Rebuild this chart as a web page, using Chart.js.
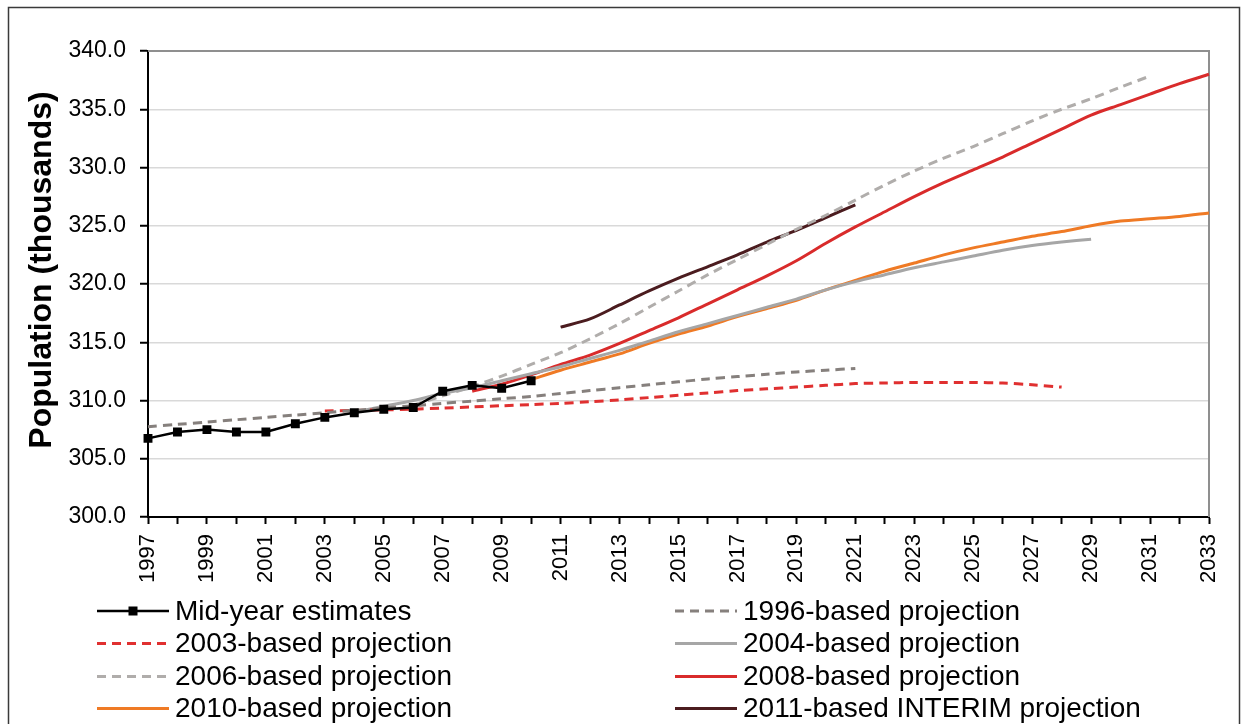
<!DOCTYPE html>
<html>
<head>
<meta charset="utf-8">
<script src="https://cdn.jsdelivr.net/npm/chart.js@4.4.1/dist/chart.umd.min.js"></script>
<style>
  html,body{margin:0;padding:0;background:#fff;}
  #wrap{width:1241px;height:724px;position:relative;}
</style>
</head>
<body>
<div id="wrap"><canvas id="c" width="1241" height="724"></canvas></div>
<script>
// ---------- DATA ----------
const years = ['1997','1998','1999','2000','2001','2002','2003','2004','2005','2006','2007','2008','2009','2010',
  '2011','2012','2013','2014','2015','2016','2017','2018','2019','2020','2021','2022','2023','2024','2025',
  '2026','2027','2028','2029','2030','2031','2032','2033'];
const yTicks = [300, 305, 310, 315, 320, 325, 330, 335, 340];

const seriesNames = ['Mid-year estimates','1996-based projection','2003-based projection','2004-based projection',
  '2006-based projection','2008-based projection','2010-based projection','2011-based INTERIM projection'];

const midYearStart = 1997;
const midYear = [306.75, 307.3, 307.5, 307.3, 307.3, 308.0, 308.55, 308.95, 309.25, 309.4, 310.8, 311.3, 311.05, 311.7];

const p1996Start = 1997;
const p1996 = [307.75, 307.95, 308.15, 308.35, 308.55, 308.75, 308.95, 309.15, 309.35, 309.55, 309.75, 309.95,
  310.15, 310.35, 310.6, 310.85, 311.1, 311.35, 311.6, 311.85, 312.05, 312.25, 312.45, 312.6, 312.75];

const p2003Start = 2003;
const p2003 = [309.1, 309.15, 309.2, 309.25, 309.35, 309.45, 309.55, 309.65, 309.75, 309.9, 310.05, 310.25,
  310.45, 310.65, 310.85, 311.0, 311.15, 311.3, 311.45, 311.5, 311.55, 311.55, 311.55, 311.5, 311.35, 311.15];

const p2004Start = 2004;
const p2004 = [309.0, 309.5, 310.0, 310.6, 311.1, 311.7, 312.3, 312.9, 313.6, 314.3, 315.1, 315.9, 316.6,
  317.3, 318.0, 318.7, 319.5, 320.2, 320.8, 321.4, 321.9, 322.4, 322.9, 323.3, 323.6, 323.85];

const p2006Start = 2006;
const p2006 = [309.6, 310.4, 311.2, 312.1, 313.1, 314.1, 315.3, 316.6, 318.0, 319.4, 320.8, 322.1, 323.4,
  324.7, 325.9, 327.2, 328.5, 329.7, 330.8, 331.8, 332.9, 334.0, 335.0, 335.9, 336.9, 337.85];

const p2008Start = 2008;
const p2008 = [310.8, 311.4, 312.2, 313.1, 313.9, 314.9, 316.0, 317.1, 318.3, 319.5, 320.7, 322.0, 323.5,
  324.9, 326.2, 327.5, 328.7, 329.8, 330.9, 332.1, 333.3, 334.5, 335.4, 336.3, 337.2, 338.0];

const p2010Start = 2010;
const p2010 = [311.8, 312.6, 313.3, 314.0, 314.9, 315.7, 316.4, 317.2, 317.9, 318.6, 319.5, 320.3, 321.1,
  321.8, 322.5, 323.1, 323.6, 324.1, 324.5, 325.0, 325.4, 325.6, 325.8, 326.1];

const p2011Start = 2011;
const p2011 = [316.3, 317.0, 318.2, 319.4, 320.5, 321.5, 322.5, 323.6, 324.6, 325.7, 326.8];

// ---------- BUILD ----------
function pad(start, vals){
  const out = new Array(years.length).fill(null);
  const off = start - parseInt(years[0], 10);
  vals.forEach((v, i) => { out[off + i] = v; });
  return out;
}
const FONT = '"Liberation Sans", Arial, sans-serif';
const DASH = [9, 6];

function lineDs(label, data, color, dash){
  return {
    label, data, borderColor: color, backgroundColor: color,
    borderWidth: 3, borderDash: dash || [], pointRadius: 0, pointHoverRadius: 0,
    tension: 0.3, fill: false, spanGaps: false
  };
}

const datasets = [
  Object.assign(lineDs(seriesNames[0], pad(midYearStart, midYear), '#000000'),
    {borderWidth: 2.5, pointStyle: 'rect', pointRadius: 6.3, pointBackgroundColor: '#000', pointBorderColor: '#000', pointBorderWidth: 0, tension: 0}),
  lineDs(seriesNames[1], pad(p1996Start, p1996), '#86807d', DASH),
  lineDs(seriesNames[2], pad(p2003Start, p2003), '#e03030', DASH),
  lineDs(seriesNames[3], pad(p2004Start, p2004), '#a6a6a6'),
  lineDs(seriesNames[4], pad(p2006Start, p2006), '#b0adab', DASH),
  lineDs(seriesNames[5], pad(p2008Start, p2008), '#d92b2b'),
  lineDs(seriesNames[6], pad(p2010Start, p2010), '#ef7a25'),
  lineDs(seriesNames[7], pad(p2011Start, p2011), '#4b1c1f')
];

const decor = {
  id: 'decor',
  beforeDraw(chart){
    const ctx = chart.ctx;
    ctx.save();
    ctx.fillStyle = '#fff';
    ctx.fillRect(0, 0, chart.width, chart.height);
    ctx.restore();
  },
  beforeDatasetsDraw(chart){
    const {ctx, chartArea: a} = chart;
    ctx.save();
    ctx.strokeStyle = '#8f8f8f';
    ctx.lineWidth = 2;
    ctx.beginPath();
    ctx.moveTo(a.left, a.top);
    ctx.lineTo(a.right, a.top);
    ctx.lineTo(a.right, a.bottom);
    ctx.stroke();
    ctx.restore();
  },
  afterDraw(chart){
    const {ctx} = chart;
    ctx.save();
    // outer frame
    ctx.strokeStyle = '#3a3a3a';
    ctx.lineWidth = 1.5;
    ctx.strokeRect(8.5, 7.5, 1231, 760);
    // y title
    ctx.save();
    ctx.translate(42, 270);
    ctx.rotate(-Math.PI / 2);
    ctx.font = 'bold 32px ' + FONT;
    ctx.fillStyle = '#000';
    ctx.textAlign = 'center';
    ctx.textBaseline = 'middle';
    ctx.fillText('Population (thousands)', 0, 0);
    ctx.restore();
    // legend
    const cols = [{x0: 97, x1: 169, tx: 175}, {x0: 675, x1: 737, tx: 743}];
    const rows = [611, 643.5, 676.5, 708.5];
    ctx.font = '28px ' + FONT;
    ctx.textBaseline = 'middle';
    ctx.textAlign = 'left';
    chart.data.datasets.forEach((ds, i) => {
      const c = cols[i % 2], y = rows[Math.floor(i / 2)];
      ctx.save();
      ctx.strokeStyle = ds.borderColor;
      ctx.lineWidth = ds.borderWidth;
      ctx.setLineDash(ds.borderDash || []);
      ctx.beginPath();
      ctx.moveTo(c.x0, y);
      ctx.lineTo(c.x1, y);
      ctx.stroke();
      if (ds.pointStyle === 'rect') {
        ctx.fillStyle = ds.borderColor;
        ctx.fillRect((c.x0 + c.x1) / 2 - 4.5, y - 4.5, 9, 9);
      }
      ctx.restore();
      ctx.fillStyle = '#000';
      ctx.fillText(ds.label, c.tx, y + 1);
    });
    ctx.restore();
  }
};

new Chart(document.getElementById('c'), {
  type: 'line',
  data: { labels: years, datasets },
  options: {
    responsive: false,
    animation: false,
    devicePixelRatio: 1,
    layout: { padding: { left: 0, top: 51, right: 32, bottom: 0 } },
    plugins: { legend: { display: false }, tooltip: { enabled: false }, title: { display: false } },
    scales: {
      x: {
        type: 'category',
        offset: false,
        grid: { drawOnChartArea: false, drawTicks: true, tickLength: 7, tickColor: '#000', tickWidth: 2 },
        border: { color: '#000', width: 2 },
        ticks: {
          autoSkip: false, maxRotation: 90, minRotation: 90, padding: 10,
          color: '#000', font: { family: FONT, size: 22 },
          callback: function(val, i){ return i % 2 === 0 ? this.getLabelForValue(val) : ''; }
        },
        afterFit(s){ s.height = 207; s.paddingLeft = 0; s.paddingRight = 0; }
      },
      y: {
        min: yTicks[0], max: yTicks[yTicks.length - 1],
        afterBuildTicks(s){ s.ticks = yTicks.map(v => ({value: v})); },
        grid: { color: '#d9d9d9', lineWidth: 1.5, tickColor: '#000', tickLength: 8, tickWidth: 2 },
        border: { color: '#000', width: 2 },
        ticks: { color: '#000', font: { family: FONT, size: 23 }, padding: 14,
          callback: v => Number(v).toFixed(1) },
        afterFit(s){ s.width = 148; }
      }
    }
  },
  plugins: [decor]
});
</script>
</body>
</html>
